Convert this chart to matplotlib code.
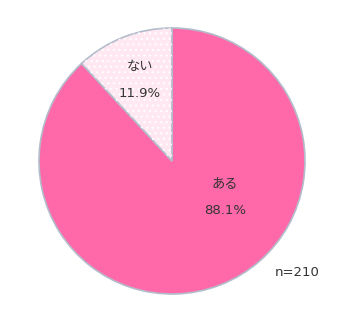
import matplotlib
matplotlib.use('Agg')
import matplotlib.pyplot as plt

labels = ['ある', 'ない']
values = [88.1, 11.9]
colors = ['#FF69A9', '#FFE8F1']
n_total = 210

plt.rcParams['font.family'] = ['DejaVu Sans', 'Noto Sans CJK JP']
plt.rcParams['hatch.linewidth'] = 0.8

fig = plt.figure(figsize=(3.5, 3.18), dpi=100)
ax = fig.add_axes([39 / 350, 24 / 318, 266 / 350, 266 / 318])

wedges, _ = ax.pie(values, colors=colors, startangle=90, counterclock=False,
                   radius=1, wedgeprops=dict(edgecolor='#B3BCCB', linewidth=1.2))
for w in wedges:
    w.set_clip_on(False)

# white dot pattern on the small slice
dots, _ = ax.pie(values, colors=['none', 'none'], startangle=90, counterclock=False,
                 radius=1, wedgeprops=dict(edgecolor='white', linewidth=0))
dots[0].set_visible(False)
dots[1].set_hatch('...')

ax.set_xlim(-1, 1)
ax.set_ylim(-1, 1)
ax.set_aspect('equal')
ax.axis('off')

# label spots
label_pos = [(0.40, -0.27), (-0.24, 0.61)]
for (x, y), lab, v in zip(label_pos, labels, values):
    ax.text(x, y + 0.1, lab, ha='center', va='center', fontsize=9.5, color='#333333')
    ax.text(x, y - 0.1, f'{v:.1f}%', ha='center', va='center', fontsize=9.5, color='#333333')

fig.text(297 / 350, 1 - 272 / 318, f'n={n_total}', ha='center', va='center',
         fontsize=9.5, color='#333333')

fig.savefig('out.png', dpi=100)
